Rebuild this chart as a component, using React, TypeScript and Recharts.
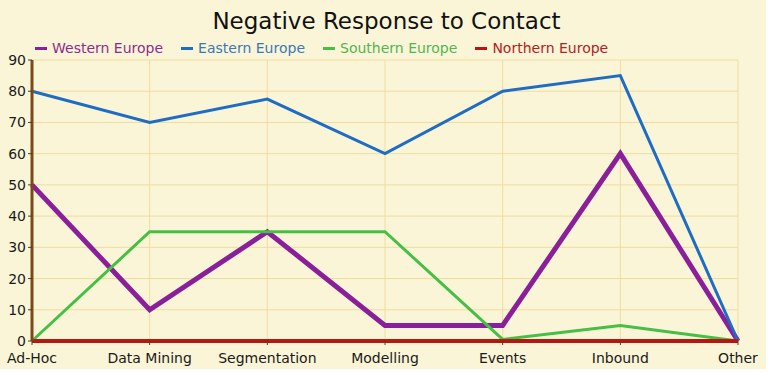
import React from "react";
import {
  LineChart,
  Line,
  XAxis,
  YAxis,
  CartesianGrid,
} from "recharts";

const categories = [
  "Ad-Hoc",
  "Data Mining",
  "Segmentation",
  "Modelling",
  "Events",
  "Inbound",
  "Other",
];
const westernEurope = [50, 10, 35, 5, 5, 60, 0];
const easternEurope = [80, 70, 77.5, 60, 80, 85, 0];
const southernEurope = [0, 35, 35, 35, 0.5, 5, 0];
const northernEurope = [0, 0, 0, 0, 0, 0, 0];
const yTicks = [0, 10, 20, 30, 40, 50, 60, 70, 80, 90];

const series = [
  { key: "Western Europe", values: westernEurope, color: "#8a1f9a", text: "#8e2c8e", width: 5 },
  { key: "Eastern Europe", values: easternEurope, color: "#1f6cc4", text: "#3a78b6", width: 3 },
  { key: "Southern Europe", values: southernEurope, color: "#45c045", text: "#52b552", width: 3 },
  { key: "Northern Europe", values: northernEurope, color: "#c0120e", text: "#b42020", width: 4 },
];

const data = categories.map((name, i) => {
  const row: Record<string, any> = { name };
  series.forEach((s) => {
    row[s.key] = s.values[i];
  });
  return row;
});

const font = "'DejaVu Sans', Verdana, sans-serif";

export default function App() {
  return (
    <div style={{ position: "absolute", left: 0, top: 0, width: 773, height: 372, background: "#fff" }}>
      <div style={{ position: "absolute", left: 0, top: 0, width: 766, height: 369, background: "#fbf5d8" }} />
      <div
        style={{
          position: "absolute",
          left: 0,
          top: 8,
          width: 773,
          textAlign: "center",
          fontFamily: font,
          fontSize: 23,
          color: "#111",
        }}
      >
        Negative Response to Contact
      </div>
      <div
        style={{
          position: "absolute",
          left: 35,
          top: 40,
          display: "flex",
          gap: 18,
          fontFamily: font,
          fontSize: 14,
        }}
      >
        {series.map((s) => (
          <div key={s.key} style={{ display: "flex", alignItems: "center", gap: 5 }}>
            <div style={{ width: 12, height: 3, background: s.color }} />
            <span style={{ color: s.text }}>{s.key}</span>
          </div>
        ))}
      </div>
      <div style={{ position: "absolute", left: 0, top: 0 }}>
        <LineChart
          width={773}
          height={372}
          data={data}
          margin={{ top: 60, right: 35, left: 4, bottom: 6 }}
        >
          <CartesianGrid stroke="#f0dc9c" strokeWidth={1} />
          <XAxis
            dataKey="name"
            interval={0}
            height={25}
            axisLine={{ stroke: "#b01a10", strokeWidth: 3 }}
            tickLine={{ stroke: "#5a3a1a" }}
            tickSize={4}
            tick={{ fill: "#1a1a1a", fontSize: 14, fontFamily: font, dy: 6 }}
          />
          <YAxis
            width={28}
            domain={[0, 90]}
            ticks={yTicks}
            interval={0}
            axisLine={{ stroke: "#7a4a1a", strokeWidth: 3 }}
            tickLine={{ stroke: "#5a3a1a" }}
            tickSize={4}
            tick={{ fill: "#1a1a1a", fontSize: 14, fontFamily: font }}
          />
          {series.map((s) => (
            <Line
              key={s.key}
              type="linear"
              dataKey={s.key}
              stroke={s.color}
              strokeWidth={s.width}
              dot={false}
              isAnimationActive={false}
            />
          ))}
        </LineChart>
      </div>
    </div>
  );
}
